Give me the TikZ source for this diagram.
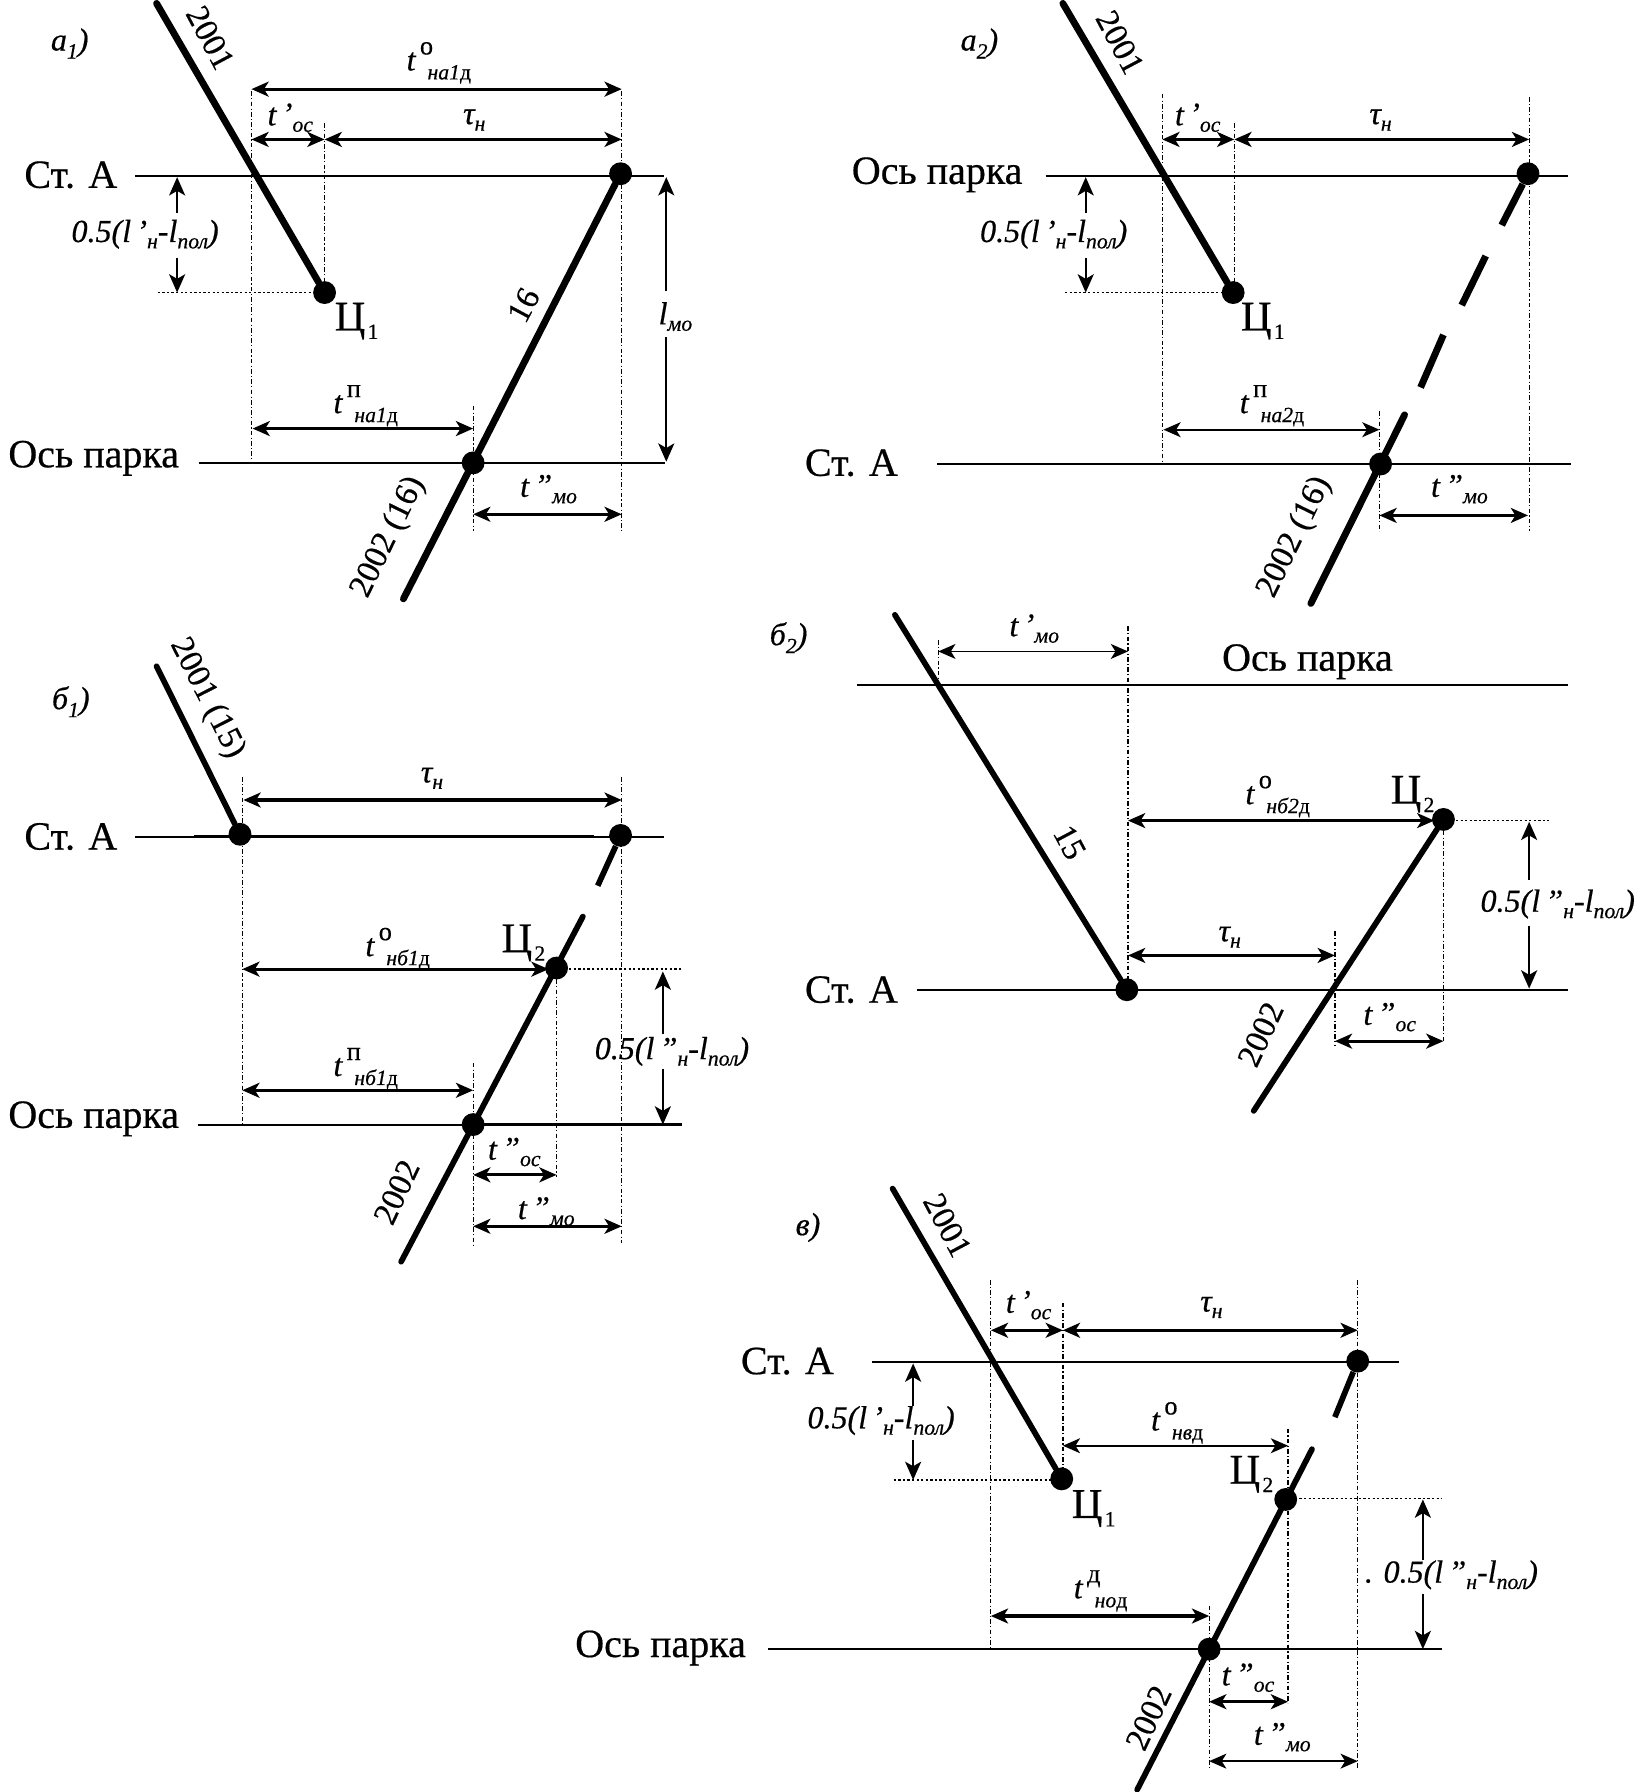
\documentclass[tikz,border=0pt]{standalone}
\usepackage{fontspec}
\setmainfont{Liberation Serif}[FakeBold=0.5]
\usetikzlibrary{arrows.meta}
\newcommand{\sbs}[1]{{\fontsize{19}{19}\selectfont #1}}
\newcommand{\dd}{{\upshape д}}
\newcommand{\tsy}[1]{Ц\kern2pt\raisebox{-.2em}{\sbs{#1}}}
\newcommand{\tlab}[3]{#1\rlap{\raisebox{.5em}{\fontsize{23}{23}\selectfont\upshape\,#2}}\raisebox{-.28em}{\sbs{\hspace*{.55em}#3}}}
\newcommand{\tpr}[2]{#1\raisebox{.02em}{\,#2}}
\newcommand{\halfA}{0.5(\textit{l}\,’\raisebox{-.2em}{\sbs{н}}-\textit{l}\raisebox{-.2em}{\sbs{пол}})}
\newcommand{\halfB}{0.5(\textit{l}\,”\raisebox{-.2em}{\sbs{н}}-\textit{l}\raisebox{-.2em}{\sbs{пол}})}
\newcommand{\panel}[2]{#1\raisebox{-.25em}{\sbs{#2}})}
\tikzset{
  trainline/.style={line width=6pt,line cap=round},
  trainthin/.style={line width=5pt,line cap=round},
  axis/.style={line width=1.7pt},
  guide/.style={line width=1.1pt,dash pattern=on 4pt off 2pt on 1pt off 2pt},
  dots/.style={line width=1.2pt,dash pattern=on 2pt off 2pt},
  dim/.style={line width=2.8pt,{Stealth[length=15pt,width=13pt,inset=4pt]}-{Stealth[length=15pt,width=13pt,inset=4pt]}},
  dimup/.style={line width=2pt,-{Stealth[length=16pt,width=14pt,inset=4pt]}},
  dotnode/.style={circle,fill=black,inner sep=0pt,minimum size=20pt},
  stn/.style={font=\fontsize{35}{37}\selectfont,inner sep=0pt},
  num/.style={font=\fontsize{29}{31}\selectfont,inner sep=0pt},
  tl/.style={font=\fontsize{28}{30}\selectfont\itshape,inner sep=0pt},
  hl/.style={font=\fontsize{28}{30}\selectfont\itshape,inner sep=0pt},
  sub1/.style={font=\fontsize{37}{39}\selectfont,inner sep=0pt}
}
\begin{document}
\begin{tikzpicture}[x=1pt,y=-1pt]
\useasboundingbox[fill=white] (0,0) rectangle (1437,1568);

%% ---------- a1
\node[tl] (a1p) at (61,38) {\panel{а}{1}};
\draw[axis] (118,154) -- (581,154);
\draw[axis] (174,405) -- (582,405);
\draw[guide] (220,80) -- (220,405);
\draw[guide] (284,108) -- (284,256);
\draw[guide] (544,80) -- (544,465);
\draw[guide] (414,355) -- (414,465);
\draw[dots] (138,256) -- (284,256);
\node[dotnode] (a1c) at (284,256) {};
\node[dotnode] (a1r) at (543,152) {};
\node[dotnode] (a1b) at (414,405) {};
\coordinate (a1s) at (137,3);
\coordinate (a1e) at (353,524);
\draw[trainline] (a1s) -- (a1c);
\draw[trainline] (a1r) -- (a1e);
\draw[dim] (220,78) -- (544,78);
\draw[dim] (220,122) -- (284,122);
\draw[dim] (284,122) -- (544,122);
\draw[dim] (221,375) -- (414,375);
\draw[dim] (414,450) -- (544,450);
\draw[dimup] (155,186) -- (155,155);
\draw[dimup] (155,226) -- (155,256);
\draw[dimup] (583,255) -- (583,155);
\draw[dimup] (583,295) -- (583,404);
\node[num,rotate=-62] (a1n1) at (184,33) {2001};
\node[tl] (a1t1) at (384,55) {\tlab{t}{о}{на1\dd}};
\node[tl] (a1t2) at (254,103) {\tpr{t}{’}\raisebox{-.2em}{\sbs{ос}}};
\node[tl] (a1t3) at (415,105) {τ\raisebox{-.2em}{\sbs{н}}};
\node[stn] (a1st) at (62,153) {Ст. А};
\node[hl] (a1h) at (127,205) {\halfA};
\node[sub1] (a1z) at (312,281) {\tsy{1}};
\node[num,rotate=62] (a1n2) at (458,267) {16};
\node[tl] (a1lm) at (591,277) {\textit{l}\raisebox{-.2em}{\sbs{мо}}};
\node[tl] (a1t4) at (320,355) {\tlab{t}{п}{на1\dd}};
\node[stn] (a1os) at (82,401) {Ось парка};
\node[tl] (a1t5) at (480,428) {\tpr{t}{”}\raisebox{-.2em}{\sbs{мо}}};
\node[num,rotate=64] (a1n3) at (340,470) {2002 (16)};

%% ---------- a2
\node[tl] (a2p) at (857,38) {\panel{а}{2}};
\draw[axis] (915,154) -- (1372,154);
\draw[axis] (820,406) -- (1375,406);
\draw[guide] (1017,82) -- (1017,405);
\draw[guide] (1080,108) -- (1080,256);
\draw[guide] (1338,85) -- (1338,465);
\draw[guide] (1207,360) -- (1207,465);
\draw[dots] (932,256) -- (1079,256);
\node[dotnode] (a2c) at (1079,256) {};
\node[dotnode] (a2r) at (1337,152) {};
\node[dotnode] (a2b) at (1208,406) {};
\coordinate (a2s) at (930,3);
\coordinate (a2d1) at (1314,197);
\coordinate (a2d2a) at (1300,224);
\coordinate (a2d2b) at (1279,267);
\coordinate (a2d3a) at (1263,293);
\coordinate (a2d3b) at (1243,339);
\coordinate (a2d4a) at (1229,363);
\coordinate (a2e) at (1147,528);
\draw[trainline] (a2s) -- (a2c);
\draw[trainline,line cap=butt] (a2r) -- (a2d1);
\draw[trainline,line cap=butt] (a2d2a) -- (a2d2b);
\draw[trainline,line cap=butt] (a2d3a) -- (a2d3b);
\draw[trainline] (a2d4a) -- (a2e);
\draw[dim] (1017,122) -- (1080,122);
\draw[dim] (1080,122) -- (1338,122);
\draw[dim,line width=1.8pt] (1018,376) -- (1207,376);
\draw[dim] (1207,451) -- (1337,451);
\draw[dimup] (950,186) -- (950,155);
\draw[dimup] (950,226) -- (950,256);
\node[num,rotate=-62] (a2n1) at (980,37) {2001};
\node[tl] (a2t2) at (1048,103) {\tpr{t}{’}\raisebox{-.2em}{\sbs{ос}}};
\node[tl] (a2t3) at (1208,105) {τ\raisebox{-.2em}{\sbs{н}}};
\node[stn] (a2os) at (820,153) {Ось парка};
\node[hl] (a2h) at (922,205) {\halfA};
\node[sub1] (a2z) at (1105,281) {\tsy{1}};
\node[tl] (a2t4) at (1113,355) {\tlab{t}{п}{на2\dd}};
\node[stn] (a2st) at (745,405) {Ст. А};
\node[tl] (a2t5) at (1277,428) {\tpr{t}{”}\raisebox{-.2em}{\sbs{мо}}};
\node[num,rotate=64] (a2n3) at (1133,470) {2002 (16)};

%% ---------- b1
\node[tl] (b1p) at (62,614) {\panel{б}{1}};
\draw[axis] (118,732) -- (581,732);
\draw[line width=3pt] (170,732) -- (520,732);
\draw[axis] (173,984) -- (597,984);
\draw[line width=2.6pt] (414,984) -- (597,984);
\draw[guide] (212,680) -- (212,985);
\draw[guide] (544,680) -- (544,1088);
\draw[guide] (414,930) -- (414,1090);
\draw[guide] (487,848) -- (487,1030);
\draw[dots] (490,848) -- (597,848);
\node[dotnode] (b1l) at (210,730) {};
\node[dotnode] (b1r) at (543,731) {};
\node[dotnode] (b1c) at (487,847) {};
\node[dotnode] (b1b) at (414,984) {};
\coordinate (b1s) at (137,583);
\coordinate (b1d1) at (523,775);
\coordinate (b1d2) at (510,802);
\coordinate (b1e) at (351,1104);
\draw[trainthin] (b1s) -- (b1l);
\draw[trainthin,line cap=butt] (b1r) -- (b1d1);
\draw[trainthin] (b1d2) -- (b1e);
\draw[dim] (213,700) -- (544,700);
\draw[dim] (212,848) -- (480,848);
\draw[dim] (212,954) -- (414,954);
\draw[dim] (414,1028) -- (487,1028);
\draw[dim] (414,1073) -- (544,1073);
\draw[dimup] (580,905) -- (580,850);
\draw[dimup] (580,935) -- (580,984);
\node[num,rotate=-63] (b1n1) at (181,611) {2001 (15)};
\node[tl] (b1t3) at (378,681) {τ\raisebox{-.2em}{\sbs{н}}};
\node[stn] (b1st) at (62,732) {Ст. А};
\node[tl] (b1t1) at (348,830) {\tlab{t}{о}{нб1\dd}};
\node[sub1] (b1z) at (458,825) {\tsy{2}};
\node[hl] (b1h) at (588,920) {\halfB};
\node[tl] (b1t4) at (320,935) {\tlab{t}{п}{нб1\dd}};
\node[stn] (b1os) at (82,979) {Ось парка};
\node[tl] (b1t5) at (450,1008) {\tpr{t}{”}\raisebox{-.2em}{\sbs{ос}}};
\node[tl] (b1t6) at (478,1060) {\tpr{t}{”}\raisebox{-.2em}{\sbs{мо}}};
\node[num,rotate=65] (b1n3) at (347,1043) {2002};

%% ---------- b2
\node[tl] (b2p) at (690,558) {\panel{б}{2}};
\draw[axis] (750,599) -- (1372,599);
\draw[axis] (802,866) -- (1372,866);
\draw[guide] (821,560) -- (821,600);
\draw[guide] (987,548) -- (987,866);
\draw[guide] (1168,815) -- (1168,915);
\draw[guide] (1263,718) -- (1263,911);
\draw[dots] (1270,718) -- (1355,718);
\node[dotnode] (b2l) at (986,866) {};
\node[dotnode] (b2r) at (1263,717) {};
\coordinate (b2s) at (783,538);
\coordinate (b2e) at (1097,972);
\draw[trainthin] (b2s) -- (b2l);
\draw[trainthin] (b2r) -- (b2e);
\draw[dim,line width=1.6pt] (821,570) -- (987,570);
\draw[dim] (987,718) -- (1255,718);
\draw[dim] (987,836) -- (1168,836);
\draw[dim] (1168,911) -- (1263,911);
\draw[dimup] (1338,770) -- (1338,719);
\draw[dimup] (1338,810) -- (1338,865);
\node[tl] (b2t2) at (905,550) {\tpr{t}{’}\raisebox{-.2em}{\sbs{мо}}};
\node[stn] (b2os) at (1144,579) {Ось парка};
\node[tl] (b2t1) at (1118,697) {\tlab{t}{о}{нб2\dd}};
\node[sub1] (b2z) at (1236,695) {\tsy{2}};
\node[num,rotate=-62] (b2n1) at (936,737) {15};
\node[tl] (b2t3) at (1076,820) {τ\raisebox{-.2em}{\sbs{н}}};
\node[hl] (b2h) at (1363,791) {\halfB};
\node[stn] (b2st) at (745,866) {Ст. А};
\node[tl] (b2t5) at (1216,890) {\tpr{t}{”}\raisebox{-.2em}{\sbs{ос}}};
\node[num,rotate=65] (b2n3) at (1103,905) {2002};

%% ---------- v
\node[tl] (vp) at (707,1074) {в)};
\draw[axis] (763,1192) -- (1224,1192);
\draw[axis] (672,1443) -- (1262,1443);
\draw[guide] (867,1120) -- (867,1443);
\draw[guide] (930,1140) -- (930,1294);
\draw[guide] (1188,1120) -- (1188,1548);
\draw[guide] (1127,1250) -- (1127,1490);
\draw[guide] (1058,1405) -- (1058,1548);
\draw[dots] (782,1295) -- (929,1295);
\draw[dots] (1133,1311) -- (1262,1311);
\node[dotnode] (vc1) at (929,1294) {};
\node[dotnode] (vr) at (1188,1191) {};
\node[dotnode] (vc2) at (1125,1312) {};
\node[dotnode] (vb) at (1058,1443) {};
\coordinate (vs) at (781,1040);
\coordinate (vd1) at (1168,1240);
\coordinate (vd2) at (1148,1268);
\coordinate (ve) at (995,1566);
\draw[trainthin] (vs) -- (vc1);
\draw[trainthin,line cap=butt] (vr) -- (vd1);
\draw[trainthin] (vd2) -- (ve);
\draw[dim] (867,1164) -- (930,1164);
\draw[dim] (930,1164) -- (1188,1164);
\draw[dim,line width=1.8pt] (930,1265) -- (1127,1265);
\draw[dim] (867,1414) -- (1058,1414);
\draw[dim] (1058,1489) -- (1127,1489);
\draw[dim,line width=1.8pt] (1058,1541) -- (1188,1541);
\draw[dimup] (799,1230) -- (799,1193);
\draw[dimup] (799,1260) -- (799,1295);
\draw[dimup] (1245,1365) -- (1245,1312);
\draw[dimup] (1245,1395) -- (1245,1443);
\node[num,rotate=-62] (vn1) at (829,1072) {2001};
\node[tl] (vt2) at (900,1142) {\tpr{t}{’}\raisebox{-.2em}{\sbs{ос}}};
\node[tl] (vt3) at (1060,1144) {τ\raisebox{-.2em}{\sbs{н}}};
\node[stn] (vst) at (689,1191) {Ст. А};
\node[hl] (vh) at (771,1243) {\halfA};
\node[tl] (vt1) at (1030,1245) {\tlab{t}{о}{нв\dd}};
\node[sub1] (vz2) at (1095,1290) {\tsy{2}};
\node[sub1] (vz1) at (957,1320) {\tsy{1}};
\node[hl] (vh2) at (1270,1378) {. \halfB};
\node[tl] (vt4) at (963,1392) {\tlab{t}{д}{но\dd}};
\node[stn] (vos) at (578,1442) {Ось парка};
\node[tl] (vt5) at (1092,1468) {\tpr{t}{”}\raisebox{-.2em}{\sbs{ос}}};
\node[tl] (vt6) at (1122,1520) {\tpr{t}{”}\raisebox{-.2em}{\sbs{мо}}};
\node[num,rotate=65] (vn3) at (1005,1503) {2002};
\end{tikzpicture}
\end{document}
